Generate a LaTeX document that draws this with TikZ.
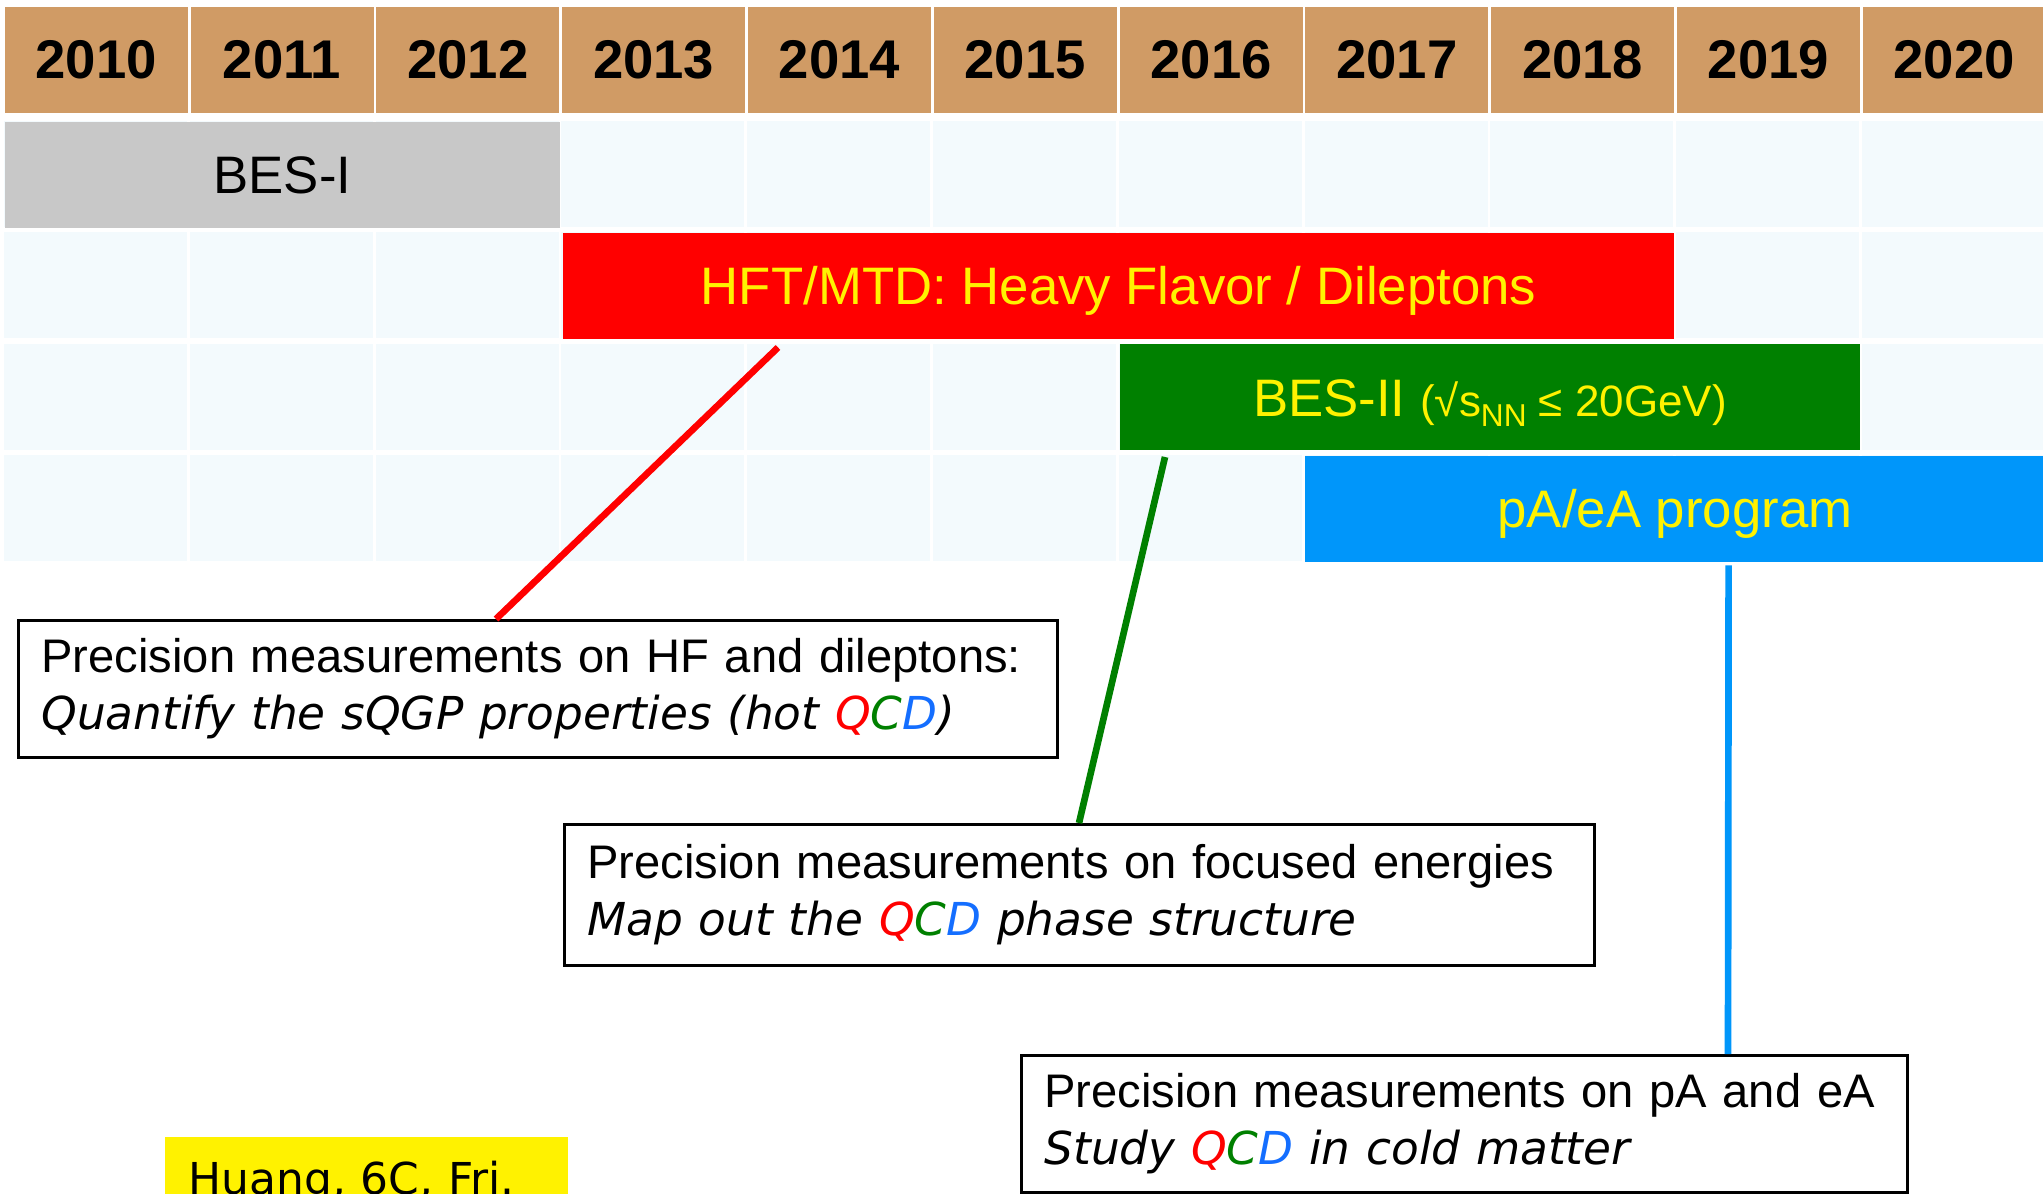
\documentclass[tikz,border=0pt]{standalone}
\usepackage{fontspec}
\setmainfont{Liberation Sans}
\newfontfamily\handfont{DejaVu Sans}
\usepackage{xcolor}
\definecolor{headtan}{RGB}{208,155,101}
\definecolor{cellblue}{RGB}{243,250,253}
\definecolor{besgray}{RGB}{200,200,200}
\definecolor{besgreen}{RGB}{0,128,0}
\definecolor{pablue}{RGB}{0,150,250}
\definecolor{qcdblue}{RGB}{20,110,255}
\newcommand{\qcd}{\textcolor{red}{Q}\textcolor{besgreen}{C}\textcolor{qcdblue}{D}}
\newcommand{\goalline}[1]{\mbox{\handfont\itshape\fontsize{12.9}{16.2}\selectfont #1}}

\begin{document}
\begin{tikzpicture}[x=0.01cm, y=-0.01cm,
  yearcell/.style={anchor=north west, fill=headtan, minimum width=1.83cm, minimum height=1.06cm,
    inner sep=0pt, text height=10.7pt, text depth=0pt, font=\fontsize{15.5}{18}\selectfont\bfseries},
  bar/.style={anchor=north west, minimum height=1.06cm, inner sep=0pt, text height=10.7pt,
    text depth=0pt, text=yellow, font=\fontsize{15}{18}\selectfont},
  goalbox/.style={anchor=north west, draw, line width=0.85pt, inner xsep=0.23cm, align=left,
    font=\fontsize{13.4}{16.2}\selectfont},
  link/.style={line width=1.9pt}]
  \path[use as bounding box, clip] (0,0) rectangle (2043,1193);
  \fill[white] (0,0) rectangle (2043,1193);
  % year columns and the light grid below them
  \foreach \i in {0,...,10}{
    \pgfmathsetmacro\colx{4+185.8*\i}
    \pgfmathtruncatemacro\year{2010+\i}
    \node[yearcell] (y\year) at (\colx,6) {\year};
    \foreach \r in {121,232,343.5,455}
      \fill[cellblue] (\colx,\r) rectangle ++(183,106);
  }
  % programme bars
  \node[bar, fill=besgray, text=black, minimum width=5.55cm] (besi) at (4,121) {BES-I};
  \node[bar, fill=red, minimum width=11.11cm] (hft) at (562,232) {HFT/MTD: Heavy Flavor / Dileptons};
  \node[bar, fill=besgreen, minimum width=7.40cm] (besii) at (1119,343.5)
    {BES-II {\fontsize{12.5}{15}\selectfont(√s\raisebox{-3pt}{\fontsize{9}{9}\selectfont NN} ≤ 20GeV)}};
  \node[bar, fill=pablue, minimum width=7.39cm] (pa) at (1304.6,455) {pA/eA program};
  % physics goals
  \node[goalbox, text width=9.92cm, minimum height=1.37cm] (hfbox) at (17,619)
    {\mbox{Precision measurements on HF and dileptons:}\\
     \goalline{Quantify the sQGP properties (hot \qcd)}};
  \node[goalbox, text width=9.83cm, minimum height=1.41cm] (focbox) at (563,823)
    {\mbox{Precision measurements on focused energies}\\
     \goalline{Map out the \qcd\ phase structure}};
  \node[goalbox, text width=8.39cm, minimum height=1.37cm] (pabox) at (1020,1054)
    {\mbox{Precision measurements on pA and eA}\\
     \goalline{Study \qcd\ in cold matter}};
  \node[anchor=north west, fill=yellow, inner xsep=0.24cm, inner ysep=0pt, text width=3.55cm,
    align=left, text height=16.5pt, text depth=4pt, font=\handfont\fontsize{12.5}{15}\selectfont]
    (huang) at (164,1136) {Huang, 6C, Fri.};
  % connectors
  \draw[link, red] ([shift={(216,8)}]hft.south west) -- ([shift={(479,0)}]hfbox.north west);
  \draw[link, besgreen] ([shift={(46,6)}]besii.south west) -- ([shift={(516,0)}]focbox.north west);
  \draw[link, pablue] ([shift={(424,3)}]pa.south west) -- ([shift={(708,0)}]pabox.north west);
\end{tikzpicture}
\end{document}
